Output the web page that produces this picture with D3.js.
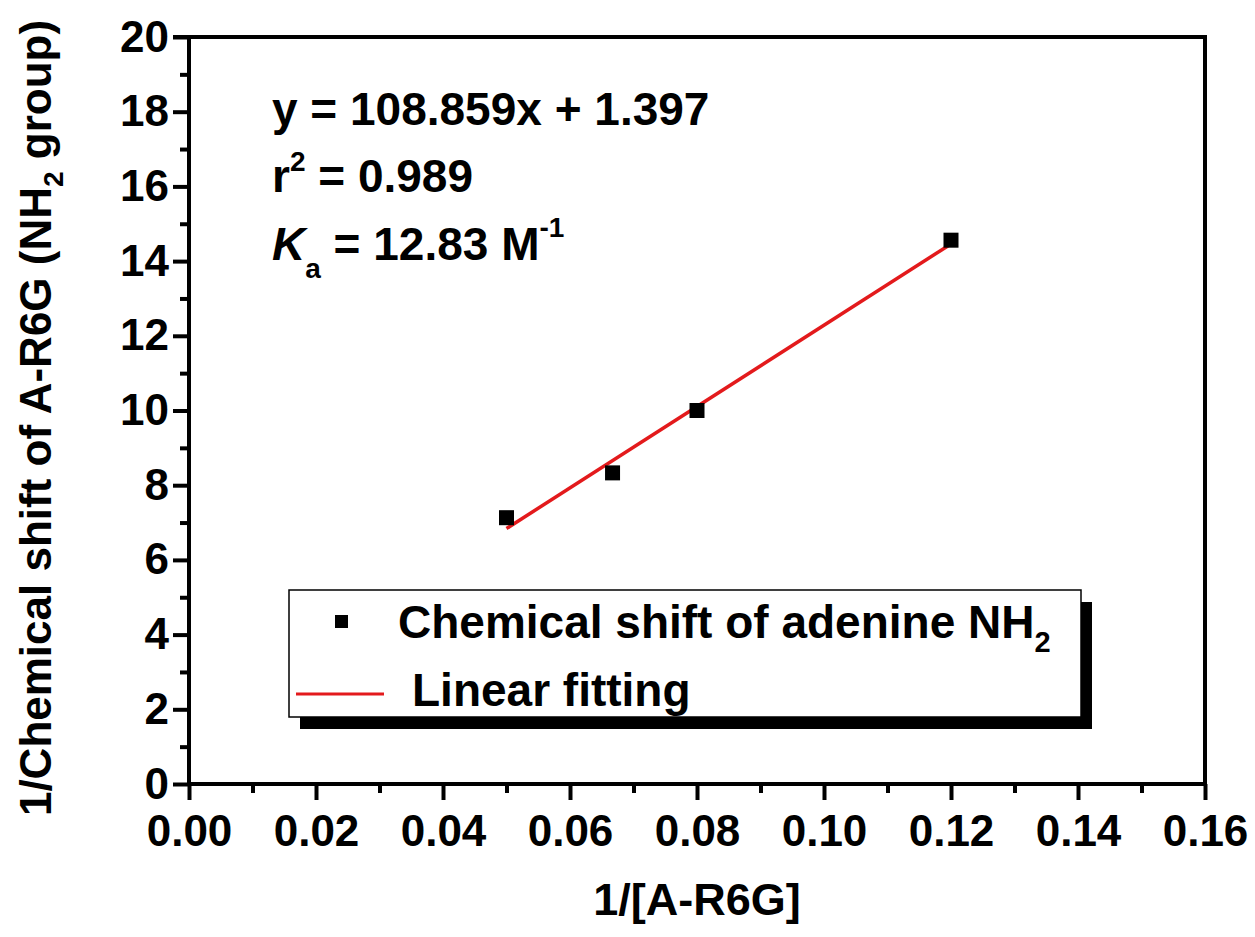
<!DOCTYPE html>
<html>
<head>
<meta charset="utf-8">
<script src="https://cdn.jsdelivr.net/npm/d3@7"></script>
<style>
  body { margin: 0; background: #fff; }
  svg text { font-family: "Liberation Sans", Arial, sans-serif; font-weight: bold; fill: #000; }
</style>
</head>
<body>
<svg id="chart"></svg>
<script>
// data
const xVals = [0.05, 0.0667, 0.08, 0.12];
const yVals = [7.13, 8.33, 10.0, 14.56];
const fitSlope = 108.859, fitIntercept = 1.397;
const fitRange = [0.05, 0.12];
const xTicks = [0, 0.02, 0.04, 0.06, 0.08, 0.10, 0.12, 0.14, 0.16];
const yTicks = [0, 2, 4, 6, 8, 10, 12, 14, 16, 18, 20];

const width = 1255, height = 937;
const svg = d3.select('#chart').attr('width', width).attr('height', height);

const x = d3.scaleLinear().domain([0, 0.16]).range([189, 1205]);
const y = d3.scaleLinear().domain([0, 20]).range([784, 37]);

// frame (top + right)
svg.append('path')
  .attr('d', `M${x(0) - 16},${y(20)} H${x(0.16)} V${y(0)}`)
  .attr('fill', 'none').attr('stroke', '#000').attr('stroke-width', 4);

// x axis
const xAxis = svg.append('g').attr('transform', `translate(0,${y(0)})`)
  .call(d3.axisBottom(x).tickValues(xTicks).tickFormat(d3.format('.2f')).tickSize(16).tickPadding(15));
svg.append('g').attr('transform', `translate(0,${y(0)})`)
  .call(d3.axisBottom(x).tickValues(d3.range(0.01, 0.16, 0.02)).tickFormat('').tickSize(9))
  .call(g => g.select('.domain').remove());

// y axis
const yAxis = svg.append('g').attr('transform', `translate(${x(0)},0)`)
  .call(d3.axisLeft(y).tickValues(yTicks).tickFormat(d3.format('d')).tickSize(16).tickPadding(4));
svg.append('g').attr('transform', `translate(${x(0)},0)`)
  .call(d3.axisLeft(y).tickValues(d3.range(1, 20, 2)).tickFormat('').tickSize(9))
  .call(g => g.select('.domain').remove());

svg.selectAll('.tick line').attr('stroke', '#000').attr('stroke-width', 4);
svg.selectAll('.domain').attr('stroke', '#000').attr('stroke-width', 4);
xAxis.select('.domain').attr('d', `M${x(0)},0H${x(0.16)}`);
yAxis.select('.domain').attr('d', `M0,${y(0)}V${y(20)}`);
svg.selectAll('.tick text').style('font-size', '44px').attr('font-family', null);

// axis titles
svg.append('text').attr('x', 697).attr('y', 915).attr('text-anchor', 'middle')
  .style('font-size', '45px').text('1/[A-R6G]');

const yTitle = svg.append('text')
  .attr('transform', `translate(51,418) rotate(-90)`)
  .attr('text-anchor', 'middle').style('font-size', '44px');
yTitle.append('tspan').text('1/Chemical shift of A-R6G (NH');
yTitle.append('tspan').attr('dy', 12).style('font-size', '28px').text('2');
yTitle.append('tspan').attr('dy', -12).text(' group)');

// fit line
svg.append('line')
  .attr('x1', x(fitRange[0])).attr('y1', y(fitSlope * fitRange[0] + fitIntercept))
  .attr('x2', x(fitRange[1])).attr('y2', y(fitSlope * fitRange[1] + fitIntercept))
  .attr('stroke', '#e31a1c').attr('stroke-width', 3.5);

// points
const sq = 15;
svg.selectAll('rect.pt').data(xVals).enter().append('rect')
  .attr('class', 'pt')
  .attr('x', (d) => x(d) - sq / 2)
  .attr('y', (d, i) => y(yVals[i]) - sq / 2)
  .attr('width', sq).attr('height', sq).attr('fill', '#000');

// annotation
const ann = svg.append('g').style('font-size', '46px');
ann.append('text').attr('x', 272).attr('y', 125).text('y = 108.859x + 1.397');
const r2 = ann.append('text').attr('x', 272).attr('y', 192);
r2.append('tspan').text('r');
r2.append('tspan').attr('dy', -21).style('font-size', '28px').text('2');
r2.append('tspan').attr('dy', 21).text(' = 0.989');
const ka = ann.append('text').attr('x', 272).attr('y', 260);
ka.append('tspan').style('font-style', 'italic').text('K');
ka.append('tspan').attr('dy', 18).style('font-size', '28px').text('a');
ka.append('tspan').attr('dy', -18).text(' = 12.83 M');
ka.append('tspan').attr('dy', -23).style('font-size', '28px').text('-1');

// legend
const lg = svg.append('g');
lg.append('rect').attr('x', 300).attr('y', 602).attr('width', 792).attr('height', 127).attr('fill', '#000');
lg.append('rect').attr('x', 289).attr('y', 590).attr('width', 792).attr('height', 127)
  .attr('fill', '#fff').attr('stroke', '#000').attr('stroke-width', 1.5);
lg.append('rect').attr('x', 335).attr('y', 615).attr('width', 13).attr('height', 13).attr('fill', '#000');
const l1 = lg.append('text').attr('x', 398).attr('y', 638).style('font-size', '46px');
l1.append('tspan').text('Chemical shift of adenine NH');
l1.append('tspan').attr('dy', 14).style('font-size', '29px').text('2');
lg.append('line').attr('x1', 296).attr('x2', 384).attr('y1', 694).attr('y2', 694)
  .attr('stroke', '#e31a1c').attr('stroke-width', 3);
lg.append('text').attr('x', 412).attr('y', 706).style('font-size', '46px').text('Linear fitting');
</script>
</body>
</html>
